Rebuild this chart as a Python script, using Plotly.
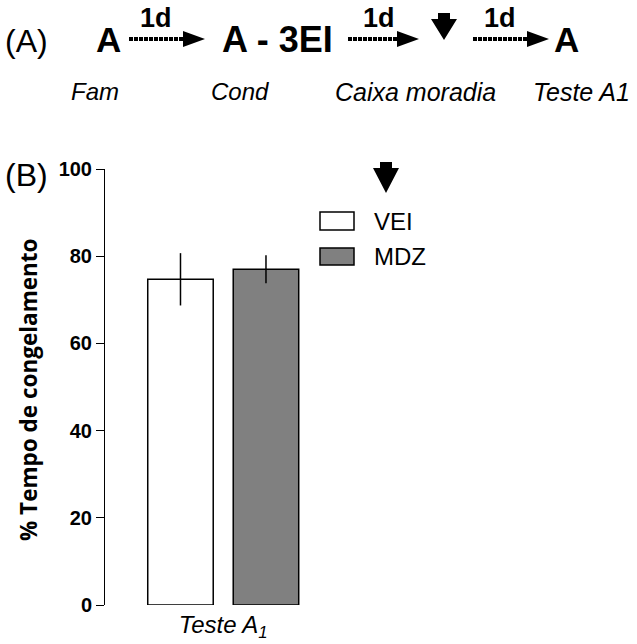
import plotly.graph_objects as go

# ---- data ----
groups = ["VEI", "MDZ"]
means = [74.7, 77.0]
sems = [6.0, 3.2]
category = ["<i>Teste A<sub>1</sub></i>"]
y_ticks = [0, 20, 40, 60, 80, 100]
timeline_top = ["A", "A - 3EI", "A"]
timeline_bottom = ["Fam", "Cond", "Caixa moradia", "Teste A1"]
interval_label = "1d"

W, H = 637, 644
def X(px):
    return px / W
def Y(py):
    return 1 - py / H

fills = ["#ffffff", "#808080"]
FONT = "Liberation Sans, Arial, sans-serif"

fig = go.Figure()
for g, m, s, c in zip(groups, means, sems, fills):
    fig.add_trace(go.Bar(
        x=category, y=[m], name=g,
        marker=dict(color=c, line=dict(color="black", width=1.5)),
        error_y=dict(type="data", array=[s], color="black", thickness=1.5, width=0),
        showlegend=False,
    ))

fig.update_layout(
    width=W, height=H,
    margin=dict(l=0, r=0, t=0, b=0, autoexpand=False),
    paper_bgcolor="white", plot_bgcolor="white",
    barmode="group", bargap=0, bargroupgap=0.234,
    font=dict(family=FONT, color="black"),
    xaxis=dict(domain=[X(105), 1], range=[-0.6915, 2.42], type="category",
               automargin=False,
               showline=False, showgrid=False, zeroline=False, ticks="",
               ticklabelstandoff=3,
               tickfont=dict(size=24, family=FONT)),
    yaxis=dict(domain=[Y(605), Y(169)], range=[0, 100], tickvals=y_ticks,
               automargin=False,
               showline=True, linecolor="black", linewidth=1, showgrid=False,
               zeroline=False, ticks="outside", ticklen=8, tickcolor="black",
               tickfont=dict(size=20, family=FONT, weight="bold")),
)

ann = []
shapes = []
def text(x, y, s, size, bold=False, italic=False, xanchor="center", angle=0, family=FONT):
    ann.append(dict(x=X(x), y=Y(y), xref="paper", yref="paper", text=s, showarrow=False,
                    xanchor=xanchor, yanchor="middle", textangle=angle,
                    font=dict(size=size, family=family, color="black",
                              weight="bold" if bold else "normal",
                              style="italic" if italic else "normal")))

# y axis title
text(28, 390, "% Tempo de congelamento", 22.5, bold=True, angle=-90, family="Open Sans, sans-serif")

# panel labels
text(3, 41, "(A)", 32, xanchor="left")
text(3, 175, "(B)", 32, xanchor="left")

# timeline
text(108, 39, timeline_top[0], 35, bold=True)
text(277, 39, timeline_top[1], 36, bold=True)
text(566, 39, timeline_top[2], 35, bold=True)
for cx in [156, 379, 500]:
    text(cx, 18, interval_label, 27, bold=True)
for cx, s, fs in zip([95, 240, 416, 581], timeline_bottom, [24, 24, 25, 25]):
    text(cx, 92, s, fs, italic=True)

def harrow(x0, x1, y):
    shapes.append(dict(type="line", xref="paper", yref="paper", x0=X(x0), x1=X(x1 - 20), y0=Y(y), y1=Y(y),
                       line=dict(color="black", width=4, dash="4px,1px")))
    shapes.append(dict(type="path", xref="paper", yref="paper",
                       path=f"M {X(x1-22)} {Y(y-8)} L {X(x1)} {Y(y)} L {X(x1-22)} {Y(y+8)} Z",
                       fillcolor="black", line=dict(width=0)))
harrow(129, 205, 39)
harrow(348, 419, 39)
harrow(473, 549, 39)

def darrow(cx, y0, y1):
    shapes.append(dict(type="path", xref="paper", yref="paper",
                       path=(f"M {X(cx-6)} {Y(y0)} L {X(cx+6)} {Y(y0)} L {X(cx+6)} {Y(y0+6)} "
                             f"L {X(cx+13)} {Y(y0+6)} L {X(cx)} {Y(y1)} L {X(cx-13)} {Y(y0+6)} "
                             f"L {X(cx-6)} {Y(y0+6)} Z"),
                       fillcolor="black", line=dict(width=0)))
darrow(444, 13, 40)
darrow(386, 162, 193)

# legend
for (yt, yb), g, c in zip([(212, 230), (248, 265)], groups, fills):
    shapes.append(dict(type="rect", xref="paper", yref="paper", x0=X(320), x1=X(354), y0=Y(yb), y1=Y(yt),
                       fillcolor=c, line=dict(color="black", width=1.5)))
    text(372, (yt + yb) / 2, g, 24, xanchor="left")

fig.update_layout(annotations=ann, shapes=shapes)
fig.write_html("out.html")
